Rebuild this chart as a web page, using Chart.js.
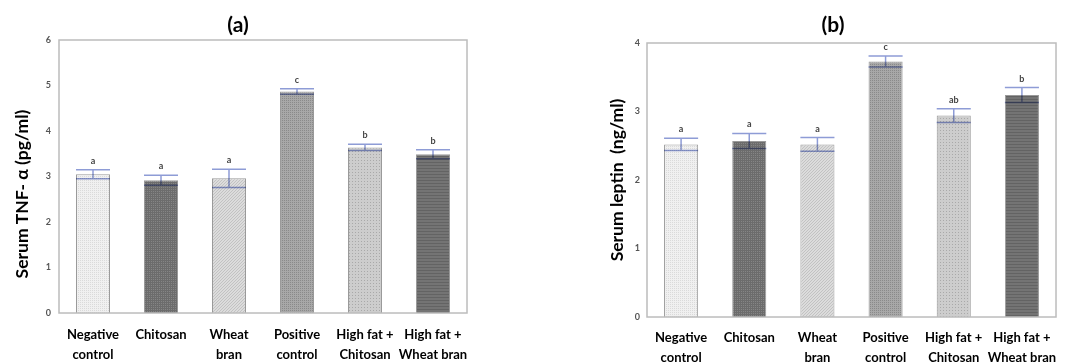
<!DOCTYPE html>
<html>
<head>
<meta charset="utf-8">
<script src="https://cdn.jsdelivr.net/npm/chart.js@4.4.1/dist/chart.umd.min.js"></script>
<style>
  html, body { margin: 0; padding: 0; background: #ffffff; }
  body { width: 1083px; height: 363px; position: relative; overflow: hidden; }
  .panel { position: absolute; top: 0; height: 363px; }
  #wrapA { left: 0; width: 540px; }
  #wrapB { left: 540px; width: 543px; }
</style>
</head>
<body>
<div class="panel" id="wrapA"><canvas id="chartA"></canvas></div>
<div class="panel" id="wrapB"><canvas id="chartB"></canvas></div>
<script>
// Treatment groups (shared by both panels)
const groups = [
  ['Negative', 'control'],
  ['Chitosan'],
  ['Wheat', 'bran'],
  ['Positive', 'control'],
  ['High fat +', 'Chitosan'],
  ['High fat +', 'Wheat bran']
];

// (a) Serum TNF-α, pg/ml
const tnfMean = [3.05, 2.92, 2.96, 4.87, 3.64, 3.49];
const tnfErr = [0.10, 0.11, 0.20, 0.06, 0.07, 0.10];
const tnfLetters = ['a', 'a', 'a', 'c', 'b', 'b'];
const tnfTicks = [0, 1, 2, 3, 4, 5, 6];

// (b) Serum leptin, ng/ml
const leptinMean = [2.52, 2.57, 2.52, 3.73, 2.94, 3.24];
const leptinErr = [0.09, 0.11, 0.10, 0.08, 0.10, 0.11];
const leptinLetters = ['a', 'a', 'a', 'c', 'ab', 'b'];
const leptinTicks = [0, 1, 2, 3, 4];

const FONT = 'Lato, "Open Sans", "DejaVu Sans", sans-serif';

// Fill textures for each group's bar
function makeTile(size, draw) {
  const c = document.createElement('canvas');
  c.width = size; c.height = size;
  const g = c.getContext('2d');
  draw(g, size);
  return g.createPattern(c, 'repeat');
}
function texturesFor() {
  return [
    // light stipple
    makeTile(2, (g) => { g.fillStyle = '#f0f0f0'; g.fillRect(0, 0, 2, 2); g.fillStyle = '#dadada'; g.fillRect(0, 0, 1, 1); }),
    // dark grid
    makeTile(2, (g) => { g.fillStyle = '#858585'; g.fillRect(0, 0, 2, 2); g.fillStyle = '#6c6c6c'; g.fillRect(0, 0, 2, 1); g.fillRect(0, 0, 1, 2); }),
    // light diagonal hatch
    makeTile(3, (g) => {
      g.fillStyle = '#dcdcdc'; g.fillRect(0, 0, 3, 3);
      g.fillStyle = '#c2c2c2';
      for (let i = 0; i < 3; i++) g.fillRect(i, 2 - i, 1, 1);
    }),
    // medium-dark stipple
    makeTile(2, (g) => { g.fillStyle = '#a8a8a8'; g.fillRect(0, 0, 2, 2); g.fillStyle = '#8a8a8a'; g.fillRect(0, 0, 1, 1); }),
    // medium stipple
    makeTile(3, (g) => { g.fillStyle = '#cdcdcd'; g.fillRect(0, 0, 3, 3); g.fillStyle = '#a9a9a9'; g.fillRect(1, 1, 1, 1); }),
    // dark horizontal stripes
    makeTile(3, (g) => { g.fillStyle = '#747474'; g.fillRect(0, 0, 3, 3); g.fillStyle = '#636363'; g.fillRect(0, 0, 3, 1); })
  ];
}

// Frame around the plot area
const frame = {
  id: 'frame',
  afterDraw(chart) {
    const { ctx, chartArea: a } = chart;
    ctx.save();
    ctx.strokeStyle = '#bcbcbc';
    ctx.lineWidth = 1.5;
    ctx.strokeRect(a.left, a.top, a.right - a.left, a.bottom - a.top);
    ctx.restore();
  }
};

// Error bars (mean ± SE) and significance letters
const errorBars = {
  id: 'errorBars',
  afterDatasetsDraw(chart, args, opts) {
    const { ctx } = chart;
    const y = chart.scales.y;
    const meta = chart.getDatasetMeta(0);
    const means = chart.data.datasets[0].data;
    meta.data.forEach((bar, i) => {
      const hi = y.getPixelForValue(means[i] + opts.err[i]);
      const lo = y.getPixelForValue(means[i] - opts.err[i]);
      const half = bar.width / 2;
      ctx.save();
      ctx.globalCompositeOperation = 'multiply';
      ctx.strokeStyle = '#8e9cd6';
      ctx.lineWidth = 1.5;
      ctx.beginPath();
      ctx.moveTo(bar.x - half, hi); ctx.lineTo(bar.x + half, hi);
      ctx.moveTo(bar.x - half, lo); ctx.lineTo(bar.x + half, lo);
      ctx.moveTo(bar.x, hi); ctx.lineTo(bar.x, lo);
      ctx.stroke();
      ctx.restore();
      ctx.save();
      ctx.fillStyle = '#444444';
      ctx.font = 'bold 9px ' + FONT;
      ctx.textAlign = 'center';
      ctx.textBaseline = 'alphabetic';
      ctx.fillText(opts.letters[i], bar.x, hi - 6);
      ctx.restore();
    });
  }
};

// Panel heading and rotated y-axis title
const captions = {
  id: 'captions',
  afterDraw(chart, args, opts) {
    const { ctx } = chart;
    ctx.save();
    ctx.fillStyle = '#000000';
    ctx.textAlign = 'center';
    ctx.textBaseline = 'middle';
    ctx.font = 'bold 21px ' + FONT;
    ctx.fillText(opts.heading, opts.headingX, 25);
    ctx.translate(opts.axisX, opts.axisY);
    ctx.rotate(-Math.PI / 2);
    ctx.font = 'bold 17.5px ' + FONT;
    ctx.fillText(opts.axisTitle, 0, 0);
    ctx.restore();
  }
};

function panel(canvasId, cfg) {
  return new Chart(document.getElementById(canvasId), {
    type: 'bar',
    data: {
      labels: groups,
      datasets: [{
        data: cfg.mean,
        backgroundColor: texturesFor(),
        borderColor: '#9a9a9a',
        borderWidth: 1,
        barPercentage: 0.5,
        categoryPercentage: 1.0
      }]
    },
    options: {
      responsive: true,
      maintainAspectRatio: false,
      animation: false,
      layout: { padding: cfg.padding },
      plugins: {
        legend: { display: false },
        tooltip: { enabled: false },
        errorBars: { err: cfg.err, letters: cfg.letters },
        captions: cfg.captions
      },
      scales: {
        x: {
          grid: { display: false, drawTicks: false },
          border: { display: false },
          ticks: {
            color: '#000000',
            padding: cfg.xPad,
            maxRotation: 0,
            autoSkip: false,
            font: { family: FONT, size: 13, weight: 'bold', lineHeight: 1.55 }
          },
          afterFit(s) { s.height = cfg.xHeight; }
        },
        y: {
          min: 0,
          max: cfg.ticks[cfg.ticks.length - 1],
          grid: { display: false, drawTicks: false },
          border: { display: false },
          afterBuildTicks(s) { s.ticks = cfg.ticks.map(v => ({ value: v })); },
          ticks: {
            color: '#555555',
            padding: cfg.yPad,
            font: { family: FONT, size: 9, weight: 'bold' }
          },
          afterFit(s) { s.width = 30; }
        }
      }
    },
    plugins: [frame, errorBars, captions]
  });
}

panel('chartA', {
  mean: tnfMean, err: tnfErr, letters: tnfLetters, ticks: tnfTicks,
  padding: { left: 29, right: 73, top: 40, bottom: 0 },
  xHeight: 50, xPad: 12, yPad: 8,
  captions: { heading: '(a)', headingX: 238, axisTitle: 'Serum TNF- \u03b1 (pg/ml)', axisX: 22, axisY: 194 }
});

panel('chartB', {
  mean: leptinMean, err: leptinErr, letters: leptinLetters, ticks: leptinTicks,
  padding: { left: 77, right: 27, top: 43, bottom: 0 },
  xHeight: 46, xPad: 11, yPad: 7,
  captions: { heading: '(b)', headingX: 293, axisTitle: 'Serum leptin  (ng/ml)', axisX: 77, axisY: 180 }
});
</script>
</body>
</html>
